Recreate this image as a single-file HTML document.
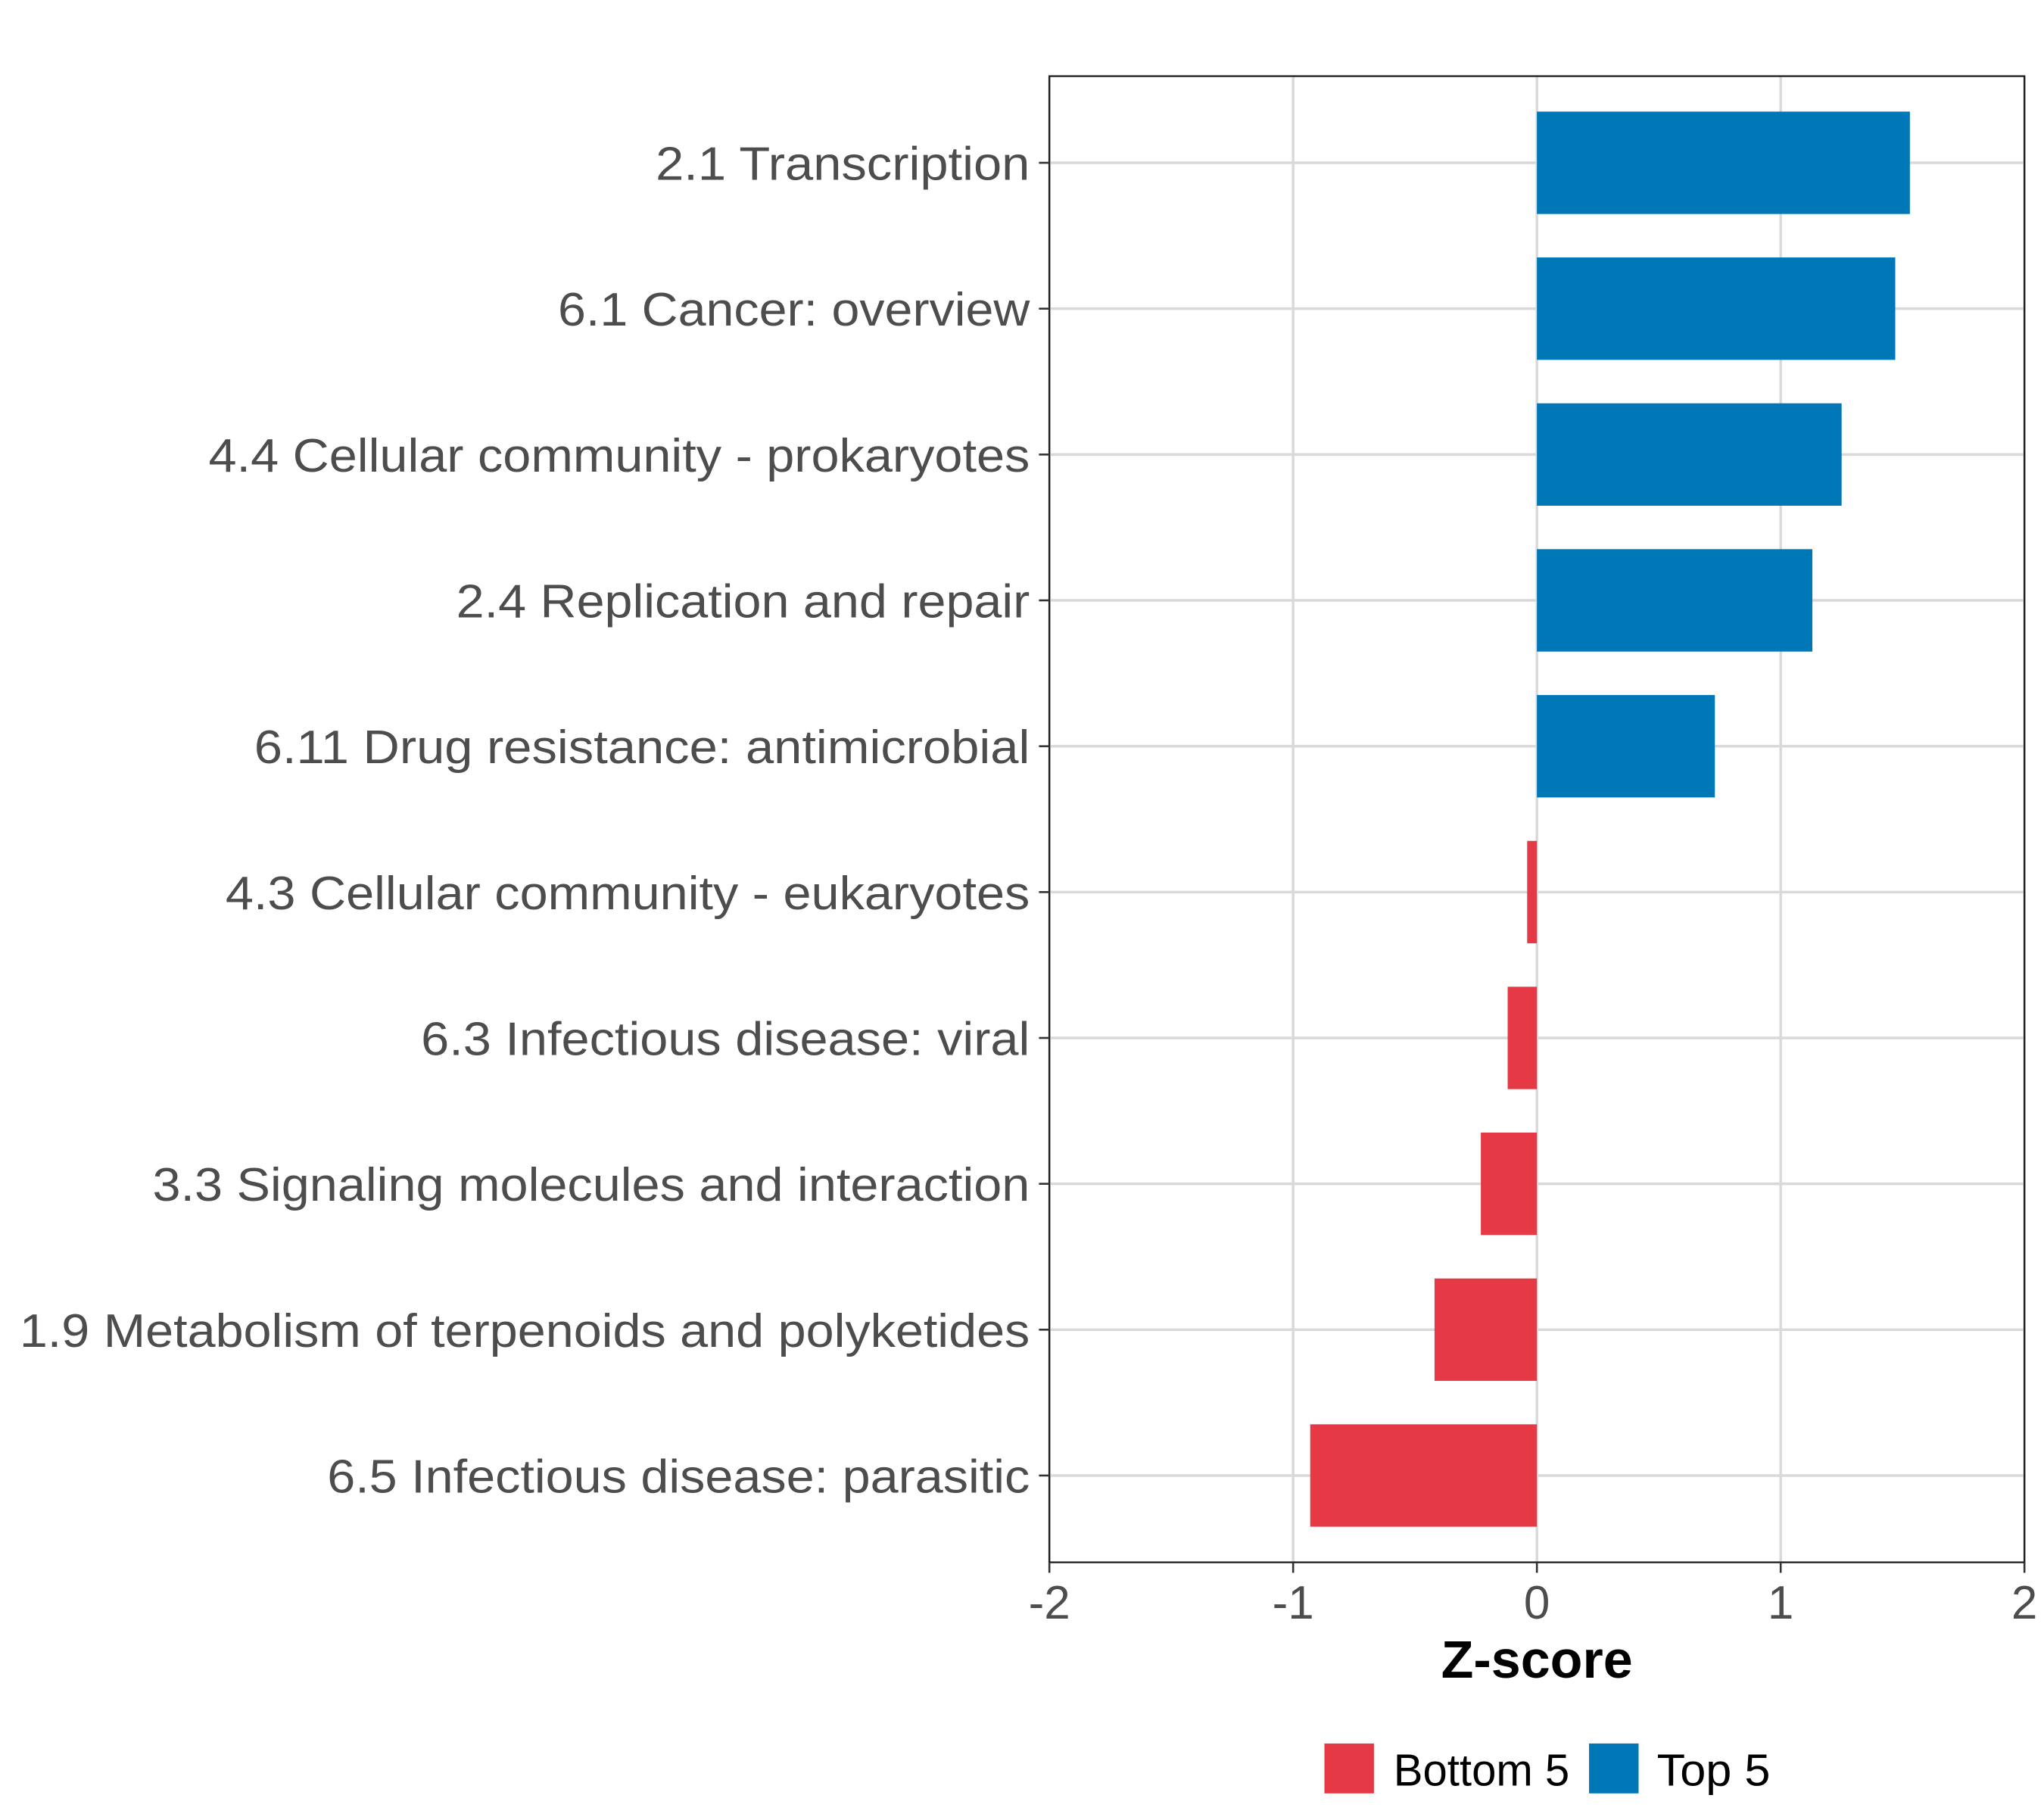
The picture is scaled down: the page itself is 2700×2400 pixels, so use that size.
<!DOCTYPE html>
<html><head><meta charset="utf-8"><style>
html,body{margin:0;padding:0;background:#fff;}
svg{display:block;}
text{font-family:"Liberation Sans",sans-serif;}
</style></head><body>
<svg id="chart" width="2700" height="2400" viewBox="0 0 1568 1384" preserveAspectRatio="none" xmlns="http://www.w3.org/2000/svg">
<rect x="0" y="0" width="1568" height="1384" fill="#fff"/>
<g id="grid"></g>
<g id="bars"></g>
<rect x="805" y="58" width="748" height="1132" fill="none" stroke="#1a1a1a" stroke-width="1.3"/>
<g id="ylabels"></g>
<g id="xticks"></g>
<text x="1179" y="1278" text-anchor="middle" font-size="40" font-weight="bold" fill="#000" textLength="147" lengthAdjust="spacingAndGlyphs">Z-score</text>
<g>
<rect x="1016" y="1328" width="38" height="38" fill="#E63946"/>
<text x="1069" y="1360" font-size="34" fill="#000" textLength="135" lengthAdjust="spacingAndGlyphs">Bottom 5</text>
<rect x="1219" y="1328" width="38" height="38" fill="#0077B6"/>
<text x="1271" y="1360" font-size="34" fill="#000" textLength="87" lengthAdjust="spacingAndGlyphs">Top 5</text>
</g>
</svg>
<script>
const categories = ["2.1 Transcription","6.1 Cancer: overview","4.4 Cellular community - prokaryotes","2.4 Replication and repair","6.11 Drug resistance: antimicrobial","4.3 Cellular community - eukaryotes","6.3 Infectious disease: viral","3.3 Signaling molecules and interaction","1.9 Metabolism of terpenoids and polyketides","6.5 Infectious disease: parasitic"];
const zscores = [1.53, 1.47, 1.25, 1.13, 0.73, -0.04, -0.12, -0.23, -0.42, -0.93];
const groups = ["Top 5","Top 5","Top 5","Top 5","Top 5","Bottom 5","Bottom 5","Bottom 5","Bottom 5","Bottom 5"];
const labelWidths = [287,362,630,440,595,617,467,673,775,539];
const xTicks = [-2,-1,0,1,2];
const xTickLabels = ["-2","-1","0","1","2"];

const NS = "http://www.w3.org/2000/svg";
const L=805, R=1553, T=58, B=1190;
const xScale = v => L + (v - (-2)) / 4 * (R - L);
const step = 111.1;
const yScale = i => 124 + step * i;
const barH = 78;
const colors = {"Top 5":"#0077B6","Bottom 5":"#E63946"};
function mk(tag, attrs, parent){const e=document.createElementNS(NS,tag);for(const k in attrs)e.setAttribute(k,attrs[k]);parent.appendChild(e);return e;}
const grid=document.getElementById('grid'), bars=document.getElementById('bars'), yl=document.getElementById('ylabels'), xt=document.getElementById('xticks');
xTicks.forEach((t,i)=>{
  const x=xScale(t);
  const g=mk('line',{x1:x,x2:x,y1:T,y2:B,stroke:'#d9d9d9','stroke-width':2},grid);
  
  
  const tk=mk('line',{x1:x,x2:x,y1:B,y2:B+8,stroke:'#333','stroke-width':1.5},xt);
  
  
  const tl=mk('text',{x:x,y:1233,'text-anchor':'middle','font-size':36,fill:'#4d4d4d'},xt);
  tl.textContent=xTickLabels[i];
  
  
});
categories.forEach((c,i)=>{
  const y=yScale(i);
  const g=mk('line',{x1:L,x2:R,y1:y,y2:y,stroke:'#d9d9d9','stroke-width':2},grid);
  
  
  const tk=mk('line',{x1:L-8,x2:L,y1:y,y2:y,stroke:'#333','stroke-width':1.5},yl);
  
  
  const v=zscores[i];
  const x0=xScale(0), x1=xScale(v);
  const b=mk('rect',{x:Math.min(x0,x1),y:y-barH/2,width:Math.abs(x1-x0),height:barH,fill:colors[groups[i]]},bars);
  
  
  const t=mk('text',{x:790,y:y+13,'text-anchor':'end','font-size':36,fill:'#4d4d4d',textLength:labelWidths[i],lengthAdjust:'spacingAndGlyphs'},yl);
  t.textContent=c;
  
  
});
</script>
</body></html>
